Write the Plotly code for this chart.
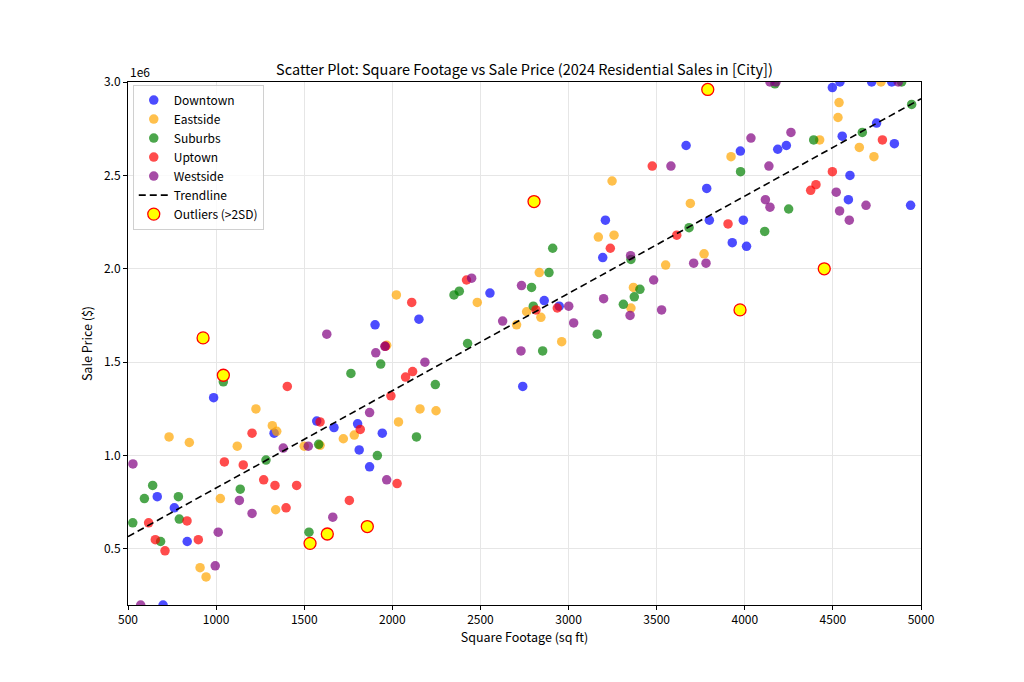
import numpy as np
import plotly.graph_objects as go

# ---------------- data ----------------
downtown_x = [699, 986, 1329, 1571, 666, 763, 836, 1902, 2151, 2554, 3667, 3784, 3209, 3799,
              3194, 2862, 2947, 2740, 1669, 1803, 1943, 1812, 1871, 4497, 4540, 4720, 4834,
              4748, 4553, 4849, 4236, 4187, 3975, 4597, 4588, 4941, 3992, 3929, 4010]
downtown_y = [200000, 1310000, 1120000, 1185000, 780000, 720000, 540000, 1700000, 1730000,
              1870000, 2660000, 2430000, 2260000, 2260000, 2060000, 1830000, 1800000, 1370000,
              1150000, 1170000, 1120000, 1030000, 940000, 2970000, 3000000, 3000000, 3000000,
              2780000, 2710000, 2670000, 2660000, 2640000, 2630000, 2500000, 2370000, 2340000,
              2260000, 2140000, 2120000]

eastside_x = [1226, 1319, 1344, 733, 848, 1120, 1500, 1590, 1024, 1338, 909, 943, 2023, 2482,
              2705, 2762, 1968, 3922, 3247, 3691, 3169, 3258, 3769, 3551, 2834, 3368, 3354,
              2843, 2961, 2157, 2248, 2035, 1722, 1784, 4773, 4535, 4529, 4425, 4650, 4733]
eastside_y = [1250000, 1160000, 1130000, 1100000, 1070000, 1050000, 1050000, 1055000, 770000,
              710000, 400000, 350000, 1860000, 1820000, 1700000, 1770000, 1590000, 2600000,
              2470000, 2350000, 2170000, 2180000, 2080000, 2020000, 1980000, 1900000, 1790000,
              1740000, 1610000, 1250000, 1240000, 1180000, 1090000, 1110000, 3000000, 2890000,
              2810000, 2690000, 2650000, 2600000]

suburbs_x = [1041, 1582, 1283, 640, 593, 786, 791, 527, 685, 1137, 1527, 2350, 2380, 2790,
             2427, 3684, 2910, 3354, 2889, 3405, 3373, 3311, 2800, 3163, 2853, 1934, 1765,
             2244, 2137, 1915, 4171, 4890, 4947, 4667, 4391, 3976, 4249, 4113]
suburbs_y = [1395000, 1060000, 976000, 840000, 770000, 780000, 660000, 640000, 540000, 820000,
             590000, 1860000, 1880000, 1900000, 1600000, 2220000, 2110000, 2050000, 1980000,
             1890000, 1850000, 1810000, 1800000, 1650000, 1560000, 1490000, 1440000, 1380000,
             1100000, 1000000, 2990000, 3000000, 2880000, 2730000, 2690000, 2520000, 2320000,
             2200000]

uptown_x = [1404, 1204, 1590, 1047, 1154, 835, 617, 655, 710, 899, 1270, 1334, 1457, 1397,
            2110, 2421, 1960, 3475, 3614, 3237, 2815, 2936, 2115, 2075, 1992, 1818, 2027,
            1756, 4781, 4497, 4404, 4374, 3905]
uptown_y = [1370000, 1120000, 1180000, 966000, 950000, 650000, 640000, 550000, 490000, 550000,
            870000, 840000, 840000, 720000, 1820000, 1940000, 1585000, 2550000, 2180000,
            2110000, 1780000, 1790000, 1450000, 1420000, 1320000, 1140000, 850000, 760000,
            2690000, 2520000, 2450000, 2420000, 2240000]

westside_x = [528, 572, 1628, 1381, 1523, 1132, 1012, 995, 1204, 1662, 1958, 1906, 2450, 2626,
              2733, 2730, 3581, 3352, 3710, 3780, 3483, 3199, 3349, 3528, 3001, 3029, 2185,
              1871, 1968, 4143, 4177, 4871, 4035, 4262, 4137, 4519, 4117, 4143, 4688, 4538, 4593]
westside_y = [955000, 200000, 1650000, 1040000, 1050000, 760000, 590000, 410000, 690000, 670000,
              1585000, 1550000, 1950000, 1720000, 1910000, 1560000, 2550000, 2070000, 2030000,
              2030000, 1940000, 1840000, 1750000, 1780000, 1800000, 1710000, 1500000, 1230000,
              870000, 3000000, 3000000, 3000000, 2700000, 2730000, 2550000, 2410000, 2370000,
              2330000, 2340000, 2310000, 2260000]

outliers_x = [926, 1041, 1533, 1631, 1858, 2804, 3790, 3973, 4451]
outliers_y = [1630000, 1430000, 530000, 580000, 620000, 2360000, 2960000, 1780000, 2000000]

trend_slope = 520.9
trend_intercept = 305600
trend_range = [500, 5000]

neighborhoods = ["Downtown", "Eastside", "Suburbs", "Uptown", "Westside"]
colors = ["rgba(0,0,255,0.7)", "rgba(255,165,0,0.7)", "rgba(0,128,0,0.7)",
          "rgba(255,0,0,0.7)", "rgba(128,0,128,0.7)"]
xs = [downtown_x, eastside_x, suburbs_x, uptown_x, westside_x]
ys = [downtown_y, eastside_y, suburbs_y, uptown_y, westside_y]

y_ticks = [500000, 1000000, 1500000, 2000000, 2500000, 3000000]
y_ticktext = ["0.5", "1.0", "1.5", "2.0", "2.5", "3.0"]
x_ticks = [500, 1000, 1500, 2000, 2500, 3000, 3500, 4000, 4500, 5000]

FONT = "Noto Sans CJK JP, Source Sans Pro, Noto Sans, sans-serif"

fig = go.Figure()
for name, c, x, y in zip(neighborhoods, colors, xs, ys):
    fig.add_trace(go.Scatter(x=x, y=y, mode="markers", name=name,
                             marker=dict(size=9.5, color=c, line=dict(width=0))))

tx = np.array(trend_range, dtype=float)
fig.add_trace(go.Scatter(x=tx, y=trend_slope * tx + trend_intercept, mode="lines",
                         name="Trendline",
                         line=dict(color="black", width=1.6, dash="7px,4px")))

fig.add_trace(go.Scatter(x=outliers_x, y=outliers_y, mode="markers", name="Outliers (>2SD)",
                         marker=dict(size=12, color="yellow",
                                     line=dict(color="red", width=1.3))))

axis_common = dict(showline=True, linecolor="black", linewidth=1, mirror=True,
                   ticks="outside", ticklen=4, tickwidth=1, tickcolor="black",
                   showgrid=True, gridcolor="#e6e6e6", gridwidth=1, zeroline=False,
                   tickfont=dict(family=FONT, size=12, color="black"))

fig.update_layout(
    width=1024, height=682,
    margin=dict(l=128, r=103, t=82, b=77),
    paper_bgcolor="white", plot_bgcolor="white",
    font=dict(family=FONT, size=12, color="black"),
    title=dict(text="Scatter Plot: Square Footage vs Sale Price (2024 Residential Sales in [City])",
               x=0.5, xref="paper", xanchor="center",
               y=1, yref="paper", yanchor="bottom", pad=dict(b=7),
               font=dict(family=FONT, size=14.5, color="black")),
    xaxis=dict(range=[500, 5000], tickvals=x_ticks,
               title=dict(text="Square Footage (sq ft)", standoff=6,
                          font=dict(family=FONT, size=12.5)),
               **axis_common),
    yaxis=dict(range=[200000, 3000000], tickvals=y_ticks, ticktext=y_ticktext,
               title=dict(text="Sale Price ($)", standoff=8,
                          font=dict(family=FONT, size=12.5)),
               **axis_common),
    legend=dict(x=0.006, y=0.995, xanchor="left", yanchor="top",
                bgcolor="rgba(255,255,255,0.8)", bordercolor="#d0d0d0", borderwidth=1,
                font=dict(family=FONT, size=12), tracegroupgap=0),
    showlegend=True,
)

fig.add_annotation(text="1e6", xref="paper", yref="paper", x=0, y=1,
                   xanchor="left", yanchor="bottom", showarrow=False,
                   font=dict(family=FONT, size=12, color="black"), yshift=0)

fig.write_html("out.html")
